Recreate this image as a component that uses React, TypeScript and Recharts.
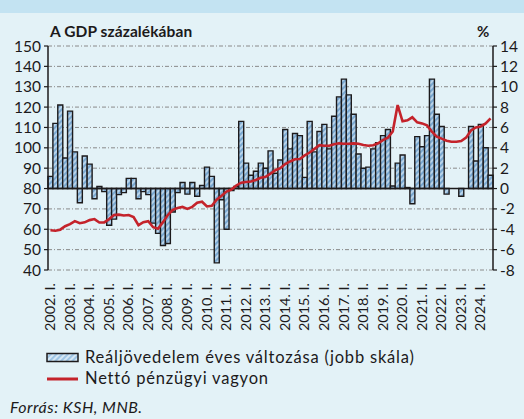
import { ComposedChart, Bar, Line, XAxis, YAxis, CartesianGrid, ReferenceLine } from 'recharts';

const years = [
  2002, 2003, 2004, 2005, 2006, 2007, 2008, 2009, 2010, 2011, 2012, 2013,
  2014, 2015, 2016, 2017, 2018, 2019, 2020, 2021, 2022, 2023, 2024,
];
const quarterMarks = ['I.', 'II.', 'III.', 'IV.'];

// Reáljövedelem éves változása, % (jobb skála)
const incomeChange = [
  1.2, 6.4, 8.2, 3.0, 7.6, 3.6, -1.4, 3.2, 2.4, -1.0,
  0.2, -0.3, -3.6, -3.0, -0.6, -0.4, 1.0, 1.0, -1.0, -0.3,
  -0.6, -3.4, -4.4, -5.6, -5.4, -2.3, -0.4, 0.6, -0.55, 0.6,
  -0.75, 0.3, 2.1, 1.2, -7.3, -1.1, -4.0, -0.2, 0.2, 6.6,
  2.5, 1.3, 1.7, 2.5, 2.0, 3.7, 1.5, 2.8, 5.8, 3.9,
  5.4, 5.2, 1.1, 6.6, 3.6, 5.6, 6.3, 3.9, 7.1, 9.0,
  10.75, 9.2, 7.3, 3.4, 2.0, 2.1, 3.9, 4.5, 5.2, 5.8,
  0.25, 2.5, 3.3, 0.1, -1.5, 5.1, 4.1, 5.2, 10.75, 7.3,
  6.1, -0.55, 0, 0, -0.75, 0, 6.1, 2.7, 6.3, 4.0,
  1.3,
];

// Nettó pénzügyi vagyon, a GDP százalékában
const netWealth = [
  59.5, 59.3, 59.8, 61.5, 62.5, 64, 63, 63.4, 64.5, 65,
  63.3, 63.4, 65, 67, 67.2, 66.8, 67, 66, 62, 63.5,
  64, 61, 60.3, 63.5, 67, 69.5, 70.5, 71, 70, 71,
  73, 73.5, 71.2, 71.5, 74.5, 76.5, 78.5, 79.5, 81.5, 82.9,
  83.2, 83.5, 84.2, 85.3, 85.8, 87.3, 89, 90, 92, 93.3,
  94.4, 94.5, 96.3, 97.7, 99.5, 101.3, 101, 101, 101.8, 102.2,
  102, 102, 102.2, 102, 101.4, 101, 101.3, 102.2, 103.8, 105,
  108, 121, 113, 113.5, 115, 112.5, 112, 111, 108, 105.5,
  104.5, 103.5, 103, 103, 103.3, 105, 108.5, 110, 110.5, 112,
  114.5,
];

const leftTicks = [40, 50, 60, 70, 80, 90, 100, 110, 120, 130, 140, 150];
const rightTicks = [-8, -6, -4, -2, 0, 2, 4, 6, 8, 10, 12, 14];

const periods = years
  .flatMap((y) => quarterMarks.map((q) => `${y}. ${q}`))
  .slice(0, incomeChange.length);

const data = periods.map((period, i) => ({
  period,
  income: incomeChange[i],
  wealth: netWealth[i],
}));

const FONT = 'Lato, "Open Sans", sans-serif';
const INK = '#1c1a1b';

function YearTick(props: { x?: number; y?: number; payload?: { value: string } }) {
  const { x = 0, y = 0, payload } = props;
  if (!payload || !payload.value.endsWith(' I.')) return null;
  return (
    <text
      x={x}
      y={y}
      transform={`rotate(-90, ${x}, ${y})`}
      textAnchor="end"
      dy="0.36em"
      fontSize={13}
      textLength={48}
      lengthAdjust="spacingAndGlyphs"
      fontFamily={FONT}
      fill={INK}
    >
      {payload.value}
    </text>
  );
}

export default function App() {
  return (
    <div
      style={{
        position: 'absolute',
        left: 0,
        top: 0,
        width: 524,
        height: 419,
        background: '#e3f2f7',
        fontFamily: FONT,
        color: INK,
        overflow: 'hidden',
      }}
    >
      <div style={{ position: 'absolute', left: 0, top: 0, width: 524, height: 13, background: '#c3e3f2' }} />

      <div style={{ position: 'absolute', left: 50, top: 22, fontSize: 15.5, fontWeight: 700, letterSpacing: 0.1 }}>
        A GDP százalékában
      </div>
      <div style={{ position: 'absolute', left: 477, top: 22, fontSize: 15, fontWeight: 700 }}>%</div>

      <div style={{ position: 'absolute', left: 0, top: 0 }}>
        <ComposedChart
          width={524}
          height={419}
          data={data}
          margin={{ top: 46, right: 0, bottom: 99, left: 8 }}
          barCategoryGap={0}
        >
          <defs>
            <pattern id="hatch" width="4" height="4" patternUnits="userSpaceOnUse" patternTransform="rotate(45)">
              <rect width="4" height="4" fill="#b9d4ea" />
              <rect width="2" height="4" fill="#7aa8d0" />
            </pattern>
          </defs>
          <CartesianGrid
            yAxisId="left"
            vertical={false}
            stroke="#8a8a8a"
            strokeDasharray="4 2 1 2"
          />
          <XAxis
            dataKey="period"
            interval={0}
            height={50}
            axisLine={false}
            tickLine={false}
            tickSize={0}
            tickMargin={13}
            tick={<YearTick />}
          />
          <YAxis
            yAxisId="left"
            orientation="left"
            width={40}
            domain={[40, 150]}
            ticks={leftTicks}
            interval={0}
            tickSize={4}
            tickMargin={3}
            axisLine={{ stroke: INK, strokeWidth: 1.5 }}
            tickLine={{ stroke: INK, strokeWidth: 1.2 }}
            tick={{ fontSize: 15.5, fontFamily: FONT, fill: INK }}
          />
          <YAxis
            yAxisId="right"
            orientation="right"
            width={31}
            domain={[-8, 14]}
            ticks={rightTicks}
            interval={0}
            tickSize={4}
            tickMargin={3}
            axisLine={{ stroke: INK, strokeWidth: 1.5 }}
            tickLine={{ stroke: INK, strokeWidth: 1.2 }}
            tick={{ fontSize: 15.5, fontFamily: FONT, fill: INK }}
          />
          <Bar
            yAxisId="right"
            dataKey="income"
            fill="url(#hatch)"
            stroke={INK}
            strokeWidth={1.4}
            isAnimationActive={false}
          />
          <ReferenceLine yAxisId="right" y={0} stroke={INK} strokeWidth={1.6} />
          <Line
            yAxisId="left"
            type="linear"
            dataKey="wealth"
            stroke="#c4232b"
            strokeWidth={2.6}
            dot={false}
            activeDot={false}
            isAnimationActive={false}
          />
        </ComposedChart>
      </div>

      <div style={{ position: 'absolute', left: 46, top: 347, fontSize: 16.5, lineHeight: '21px', letterSpacing: 0.8 }}>
        <div style={{ display: 'flex', alignItems: 'center' }}>
          <svg width={34} height={12} style={{ marginRight: 5 }}>
            <defs>
              <pattern id="hatchLegend" width="4" height="4" patternUnits="userSpaceOnUse" patternTransform="rotate(45)">
                <rect width="4" height="4" fill="#d6e8f5" />
                <rect width="2" height="4" fill="#9fc6e6" />
              </pattern>
            </defs>
            <rect x={1} y={1.5} width={31} height={8} fill="url(#hatchLegend)" stroke={INK} strokeWidth={1.5} />
          </svg>
          <span>Reáljövedelem éves változása (jobb skála)</span>
        </div>
        <div style={{ display: 'flex', alignItems: 'center' }}>
          <svg width={34} height={12} style={{ marginRight: 5 }}>
            <line x1={1} y1={6} x2={32} y2={6} stroke="#c4232b" strokeWidth={3} />
          </svg>
          <span>Nettó pénzügyi vagyon</span>
        </div>
      </div>

      <div style={{ position: 'absolute', left: 10, top: 397, fontSize: 16, fontStyle: 'italic', letterSpacing: 0.5 }}>
        Forrás: KSH, MNB.
      </div>
    </div>
  );
}
